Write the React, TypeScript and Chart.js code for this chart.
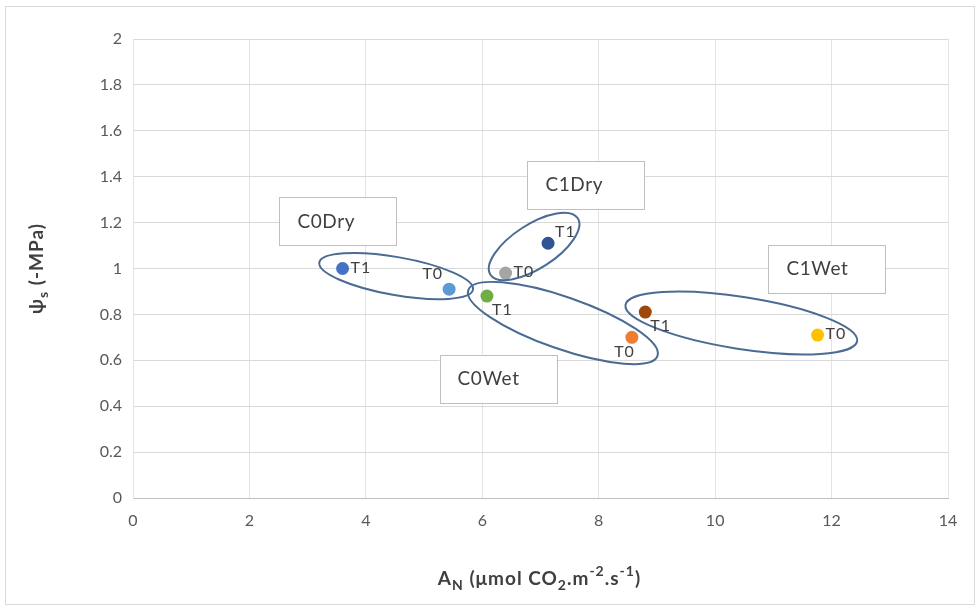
import React, { useEffect, useRef } from "react";
import { Chart, registerables } from "chart.js";

Chart.register(...registerables);

// ---- data ----
const groups = ["C0Dry", "C0Dry", "C1Dry", "C1Dry", "C0Wet", "C0Wet", "C1Wet", "C1Wet"];
const times = ["T1", "T0", "T1", "T0", "T1", "T0", "T1", "T0"];
const anValues = [3.6, 5.43, 7.13, 6.4, 6.08, 8.57, 8.8, 11.76];
const psiValues = [1.0, 0.91, 1.11, 0.98, 0.88, 0.7, 0.81, 0.71];
const pointColors = ["#4472C4", "#5B9BD5", "#2F5597", "#A5A5A5", "#70AD47", "#ED7D31", "#9E480E", "#FFC000"];
// label placement relative to point
const labelSides = ["right", "leftUp", "rightUp", "right", "rightDown", "leftDown", "rightDown", "right"];

const xTicks = [0, 2, 4, 6, 8, 10, 12, 14];
const yTicks = [0, 0.2, 0.4, 0.6, 0.8, 1, 1.2, 1.4, 1.6, 1.8, 2];

// group ellipses: major axis endpoints in data units
const ellipseNames = ["C0Dry", "C1Dry", "C0Wet", "C1Wet"];
const ellipseX1 = [3.2, 6.14, 5.76, 8.46];
const ellipseY1 = [1.026, 0.973, 0.906, 0.841];
const ellipseX2 = [5.84, 7.64, 9.01, 12.44];
const ellipseY2 = [0.908, 1.219, 0.619, 0.684];
const ellipseMinor = [19, 22, 26, 26];

// group label boxes: centre in data units
const boxNames = ["C0Dry", "C1Dry", "C0Wet", "C1Wet"];
const boxX = [3.52, 7.78, 6.27, 11.92];
const boxY = [1.205, 1.365, 0.52, 0.998];

const FONT = "Lato, 'Open Sans', 'DejaVu Sans', sans-serif";

type Seg = { t: string; m: "n" | "sub" | "sup" };
const xTitle: Seg[] = [
  { t: "A", m: "n" },
  { t: "N", m: "sub" },
  { t: " (μmol CO", m: "n" },
  { t: "2", m: "sub" },
  { t: ".m", m: "n" },
  { t: "-2", m: "sup" },
  { t: ".s", m: "n" },
  { t: "-1", m: "sup" },
  { t: ")", m: "n" },
];
const yTitle: Seg[] = [
  { t: "ψ", m: "n" },
  { t: "s", m: "sub" },
  { t: " (-MPa)", m: "n" },
];

function drawRich(ctx: CanvasRenderingContext2D, segs: Seg[], cx: number, cy: number, size: number) {
  const small = Math.round(size * 0.72);
  (ctx as any).letterSpacing = "1px";
  let total = 0;
  const widths = segs.map((s) => {
    ctx.font = `bold ${s.m === "n" ? size : small}px ${FONT}`;
    const w = ctx.measureText(s.t).width;
    total += w;
    return w;
  });
  let x = cx - total / 2;
  ctx.textBaseline = "middle";
  ctx.textAlign = "left";
  segs.forEach((s, i) => {
    ctx.font = `bold ${s.m === "n" ? size : small}px ${FONT}`;
    const dy = s.m === "sub" ? size * 0.35 : s.m === "sup" ? -size * 0.38 : 0;
    ctx.fillText(s.t, x, cy + dy);
    x += widths[i];
  });
  (ctx as any).letterSpacing = "0px";
}

const annotationPlugin = {
  id: "annot",
  beforeDraw(chart: any) {
    const ctx = chart.ctx as CanvasRenderingContext2D;
    ctx.save();
    ctx.fillStyle = "#ffffff";
    ctx.fillRect(0, 0, chart.width, chart.height);
    ctx.strokeStyle = "#d9d9d9";
    ctx.lineWidth = 1;
    ctx.strokeRect(5.5, 6.5, chart.width - 11, chart.height - 12);
    ctx.restore();
  },
  afterDatasetsDraw(chart: any) {
    const ctx = chart.ctx as CanvasRenderingContext2D;
    const xs = chart.scales.x;
    const ys = chart.scales.y;
    ctx.save();
    // ellipses
    ellipseNames.forEach((_, i) => {
      const p1x = xs.getPixelForValue(ellipseX1[i]);
      const p1y = ys.getPixelForValue(ellipseY1[i]);
      const p2x = xs.getPixelForValue(ellipseX2[i]);
      const p2y = ys.getPixelForValue(ellipseY2[i]);
      const cx = (p1x + p2x) / 2;
      const cy = (p1y + p2y) / 2;
      const a = Math.hypot(p2x - p1x, p2y - p1y) / 2;
      const ang = Math.atan2(p2y - p1y, p2x - p1x);
      ctx.beginPath();
      ctx.ellipse(cx, cy, a, ellipseMinor[i], ang, 0, Math.PI * 2);
      ctx.strokeStyle = "#4A6B93";
      ctx.lineWidth = 2;
      ctx.stroke();
    });
    // boxes
    boxNames.forEach((name, i) => {
      const cx = xs.getPixelForValue(boxX[i]);
      const cy = ys.getPixelForValue(boxY[i]);
      const w = 117;
      const h = 48;
      ctx.fillStyle = "#ffffff";
      ctx.fillRect(cx - w / 2, cy - h / 2, w, h);
      ctx.strokeStyle = "#bfbfbf";
      ctx.lineWidth = 1;
      ctx.strokeRect(Math.round(cx - w / 2) + 0.5, Math.round(cy - h / 2) + 0.5, w, h);
      ctx.fillStyle = "#404040";
      ctx.font = `19px ${FONT}`;
      (ctx as any).letterSpacing = "0.6px";
      ctx.textAlign = "left";
      ctx.textBaseline = "middle";
      ctx.fillText(name, cx - w / 2 + 18, cy);
      (ctx as any).letterSpacing = "0px";
    });
    // point labels
    ctx.font = `16px ${FONT}`;
    (ctx as any).letterSpacing = "1px";
    ctx.fillStyle = "#404040";
    ctx.textBaseline = "middle";
    times.forEach((t, i) => {
      const px = xs.getPixelForValue(anValues[i]);
      const py = ys.getPixelForValue(psiValues[i]);
      const side = labelSides[i];
      let x = px + 8;
      let y = py;
      ctx.textAlign = "left";
      if (side === "right") {
        x = px + 8;
        y = py - 1;
      } else if (side === "rightUp") {
        x = px + 7;
        y = py - 11;
      } else if (side === "rightDown") {
        x = px + 5;
        y = py + 14;
      } else if (side === "leftUp") {
        ctx.textAlign = "right";
        x = px - 6;
        y = py - 15;
      } else if (side === "leftDown") {
        ctx.textAlign = "right";
        x = px + 3;
        y = py + 14;
      }
      ctx.fillText(t, x, y);
    });
    (ctx as any).letterSpacing = "0px";
    // axis titles
    ctx.fillStyle = "#404040";
    drawRich(ctx, xTitle, (chart.chartArea.left + chart.chartArea.right) / 2 - 1, 579, 19);
    ctx.translate(37, (chart.chartArea.top + chart.chartArea.bottom) / 2);
    ctx.rotate(-Math.PI / 2);
    drawRich(ctx, yTitle, 0, 0, 19);
    ctx.restore();
  },
};

export default function App() {
  const ref = useRef<HTMLCanvasElement | null>(null);
  useEffect(() => {
    if (!ref.current) return;
    const chart = new Chart(ref.current, {
      type: "scatter",
      data: {
        datasets: [
          {
            label: "ψs",
            data: anValues.map((x, i) => ({ x, y: psiValues[i] })),
            backgroundColor: pointColors,
            borderColor: pointColors,
            pointRadius: 6.5,
            pointHoverRadius: 6.5,
            borderWidth: 0,
          },
        ],
      },
      options: {
        animation: false,
        responsive: true,
        maintainAspectRatio: false,
        layout: { padding: { left: 0, top: 39, right: 32, bottom: 0 } },
        plugins: {
          legend: { display: false },
          tooltip: { enabled: false },
          title: { display: false },
        },
        scales: {
          x: {
            type: "linear",
            min: 0,
            max: 14,
            afterBuildTicks: (s: any) => {
              s.ticks = xTicks.map((v) => ({ value: v }));
            },
            afterFit: (s: any) => {
              s.height = 112;
            },
            ticks: {
              color: "#595959",
              font: { size: 16, family: FONT },
              padding: 13,
            },
            grid: { color: "#e3e3e3", drawTicks: false },
            border: { display: true, color: "#bfbfbf", width: 1 },
          },
          y: {
            type: "linear",
            min: 0,
            max: 2,
            afterBuildTicks: (s: any) => {
              s.ticks = yTicks.map((v) => ({ value: v }));
            },
            afterFit: (s: any) => {
              s.width = 133;
            },
            ticks: {
              color: "#595959",
              font: { size: 16, family: FONT },
              padding: 11,
              callback: (v: any) => String(Math.round(Number(v) * 10) / 10),
            },
            grid: { color: "#d9d9d9", drawTicks: false },
            border: { display: true, color: "#e3e3e3" },
          },
        },
      },
      plugins: [annotationPlugin],
    });
    return () => chart.destroy();
  }, []);
  return (
    <div style={{ position: "absolute", left: 0, top: 0, width: 980, height: 610 }}>
      <canvas ref={ref} style={{ display: "block" }} />
    </div>
  );
}
